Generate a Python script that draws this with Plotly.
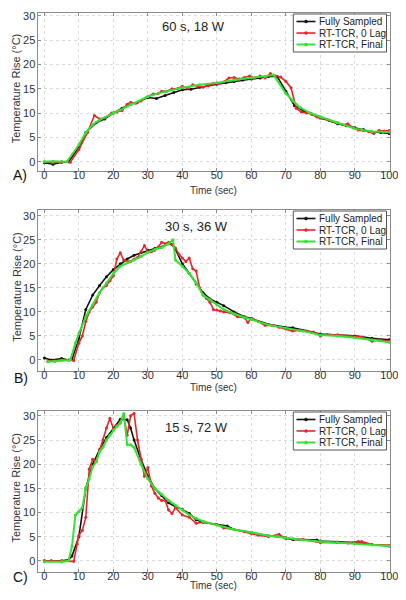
import plotly.graph_objects as go

# ---------------- data ----------------
# Panel A: 60 s, 18 W
tA_full = [0, 2.5, 5, 7, 10, 12, 15, 17.5, 20, 22.5, 25, 27, 30, 32.5, 35, 37.5, 40, 42.5, 45, 47.5,
           50, 52.5, 55, 57.5, 60, 62.5, 65, 67.5, 70, 72.5, 75, 77.5, 80, 82.5, 85, 87.5, 90, 92.5, 95, 97.5, 100]
yA_full = [-0.2, -0.5, -0.1, 0, 3, 6, 8, 8.8, 10, 11, 11.8, 12.2, 13.2, 13, 13.6, 14.2, 14.8, 14.9, 15.3, 15.6,
           15.9, 16.2, 16.5, 16.8, 17.0, 17.2, 17.5, 17.5, 14.5, 11.5, 10.5, 9.8, 9.0, 8.5, 7.8, 7.4, 7.0, 6.6, 6.1, 6.0, 5.8]
tA_lag = [0, 2.5, 5, 7.5, 10, 12.5, 14.5, 16, 17.5, 19.5, 21, 22.5, 24, 25, 26.5, 28, 30, 31.5, 33, 34, 35.5, 37,
          38.5, 40, 41.5, 43, 44.5, 46, 47.5, 49, 50.5, 52, 53.5, 55, 56.5, 58, 59.5, 61, 62.5, 64, 65.5, 67, 68.5,
          70, 71.5, 73, 74.5, 76, 77.5, 79, 80.5, 82, 83.5, 85, 86.5, 88, 89.5, 91, 92.5, 94, 95.5, 97, 98.5, 100]
yA_lag = [0, -0.2, 0, -0.1, 2.5, 6, 9.5, 8.8, 9, 10, 10.2, 10.5, 11.8, 12.2, 12, 12.5, 13.4, 13.9, 14.0, 14.5, 14.5, 15,
          15, 15.5, 15.1, 15.8, 15.5, 15.3, 15.6, 16.1, 16.0, 16.4, 17.2, 17.3, 17.0, 17.3, 17.6, 17.2, 17.6, 17.2, 18.1, 17.6, 17.4,
          16.5, 15.2, 11.0, 10.2, 10.0, 9.8, 9.2, 9.0, 8.7, 8.2, 8.0, 7.6, 7.8, 7.0, 6.5, 6.4, 6.2, 5.8, 6.4, 6.3, 6.4]
tA_fin = [0, 2.5, 6.5, 10, 12, 14, 16, 20, 25, 30, 35, 40, 45, 50, 55, 60, 64, 66.5, 70, 72, 74, 77, 80, 85, 90, 95, 100]
yA_fin = [0, 0.1, 0, 3.5, 6, 7.6, 8.6, 10, 11.8, 13.4, 14.4, 15.2, 15.8, 16.2, 16.8, 17.2, 17.5, 17.8, 14, 12.5, 11.2,
          10, 9.2, 8.0, 6.8, 6.2, 6.1]

# Panel B: 30 s, 36 W
tB_full = [0, 2, 5, 7, 8, 10, 12, 14, 16, 18, 20, 22, 24, 26, 28, 30, 32, 34, 36, 37, 38, 40, 42, 44, 46, 48, 50,
           52, 55, 58, 60, 65, 70, 72, 75, 80, 85, 90, 95, 100]
yB_full = [0.4, 0, 0.3, 0, 0.1, 4.5, 10.5, 13.5, 15.5, 17.3, 18.8, 20, 21, 21.8, 22.3, 22.8, 23.2, 23.5, 24.2, 24, 23,
           20, 18, 15.8, 14, 12.7, 12, 11.3, 10, 9, 8.6, 7.4, 6.8, 6.7, 6.2, 5.4, 5.2, 5.0, 4.5, 4.2]
tB_lag = [1, 3, 5, 8.5, 10, 11, 12, 13, 14, 15, 16, 17, 18, 19, 20, 21, 22, 23, 24, 25, 26, 27, 28, 29, 30, 31, 32,
          33, 34, 35, 36, 37, 38, 39, 40, 41, 42, 43, 44, 45, 46, 47, 48, 49, 50, 51, 52, 54, 56, 58, 59, 60, 62, 64,
          66, 68, 70, 72, 74, 76, 78, 80, 82, 85, 88, 90, 92, 95, 97, 100]
yB_lag = [-0.3, -0.2, 0, -0.1, 3.5, 5, 8, 10, 11, 12, 14, 15, 15.5, 16.5, 17.5, 21, 22.3, 20.8, 20.5, 20.5, 21, 21.3,
          22.5, 23.8, 22.5, 22.5, 22.8, 23.5, 24.5, 24.2, 24.5, 24, 23.3, 22, 21.2, 20.5, 21.2, 19, 18.5, 15, 13.5,
          12.8, 12, 10.5, 10.4, 10.2, 10, 9.8, 9.0, 8.8, 7.8, 8.7, 8.0, 7.2, 7.2, 6.8, 6.5, 6.0, 6.2, 6.0, 5.8, 5.0,
          5.3, 5.2, 5.0, 4.8, 4.8, 3.9, 4.2, 3.9]
tB_fin = [1, 3, 5, 7.5, 9, 10, 12, 14, 16, 18, 20, 22, 24, 26, 28, 30, 32, 34, 36, 37.3, 38, 40, 42, 44, 46, 48, 50,
          52, 55, 58, 60, 65, 70, 75, 80, 85, 90, 95, 100]
yB_fin = [-0.4, -0.3, -0.1, 0, 3.5, 5.5, 9, 11.5, 14, 16, 18, 19.5, 20.2, 20.8, 21.5, 22.4, 23, 23.4, 24.2, 25, 20.8,
          19.5, 18, 16, 13.5, 12.5, 11.5, 10.5, 9.6, 8.8, 8.4, 7.3, 6.7, 6.0, 5.2, 5.0, 4.6, 4.2, 3.7]

# Panel C: 15 s, 72 W
tC_full = [0, 2, 5, 7, 8, 10, 12, 14, 16, 18, 20, 22, 24, 25, 26, 28, 30, 32, 34, 36, 38, 40, 42, 44, 46, 50, 53,
           55, 60, 65, 70, 72, 75, 79, 80, 85, 90, 95, 100]
yC_full = [0, 0, 0, 0.2, 1, 5, 15, 20, 23, 25.5, 27.5, 29.3, 29.2, 27.5, 25, 21, 17.5, 15, 13.5, 12, 11.2, 10.6, 9.8,
           8.5, 8.0, 7.5, 7.2, 6.5, 5.8, 5.2, 4.8, 4.4, 4.4, 4.3, 4.1, 3.9, 3.8, 3.4, 3.1]
tC_lag = [0, 5, 8.5, 9.5, 10, 11, 12, 13, 14, 15, 16, 17, 18, 19, 20, 21, 22, 23, 24, 25, 26, 27, 28, 29, 30, 31,
          32, 33, 34, 35, 36, 37, 38, 40, 42, 44, 46, 50, 52, 55, 58, 60, 62, 65, 68, 70, 72, 75, 80, 85, 88, 91, 92,
          95, 100]
yC_lag = [0, -0.1, -0.1, 3.5, 5.3, 6.3, 9, 19, 21, 20.5, 23, 25, 27.5, 29.5, 27.3, 28, 28.5, 30, 26, 30, 30.5, 25, 21,
          17.5, 19.3, 15.5, 14, 13, 12.5, 12.5, 10.5, 9.8, 11, 9.5, 9.0, 7.8, 8.0, 7.5, 6.8, 6.5, 6.0, 5.6, 5.3, 5.0,
          5.5, 4.6, 4.5, 4.4, 3.8, 3.8, 3.7, 4.0, 4.0, 3.4, 3.2]
tC_fin = [0, 5, 7, 8, 9, 10, 11, 12, 13, 14, 15, 16, 17, 18, 19, 20, 21, 22, 23, 24, 25, 26, 28, 30, 32, 34, 36, 38,
          40, 42, 44, 46, 50, 55, 60, 65, 70, 75, 80, 85, 90, 95, 100]
yC_fin = [-0.2, -0.2, 0, 3, 9.5, 10.2, 11, 15, 17, 19.5, 20.5, 22.5, 23.5, 25, 26, 27, 27.8, 28.5, 30.5, 24, 24, 23.5,
          20, 17, 15, 13.8, 12.5, 11.5, 10.5, 9.5, 8.8, 8.2, 7.4, 6.5, 5.9, 5.2, 4.8, 4.3, 4.0, 3.8, 3.6, 3.3, 3.1]

panel_titles = ["60 s, 18 W", "30 s, 36 W", "15 s, 72 W"]
panel_letters = ["A)", "B)", "C)"]
series_names = ["Fully Sampled", "RT-TCR, 0 Lag", "RT-TCR, Final"]
x_title = "Time (sec)"
y_title = "Temperature Rise (°C)"
x_ticks = [0, 10, 20, 30, 40, 50, 60, 70, 80, 90, 100]
y_ticks = [0, 5, 10, 15, 20, 25, 30]

panels = [
    [(tA_full, yA_full), (tA_lag, yA_lag), (tA_fin, yA_fin)],
    [(tB_full, yB_full), (tB_lag, yB_lag), (tB_fin, yB_fin)],
    [(tC_full, yC_full), (tC_lag, yC_lag), (tC_fin, yC_fin)],
]

# ---------------- style / layout ----------------
# The html body has an 8 px margin on every side; size the figure so that it fits
# the 406x600 window exactly and shift all window coordinates by that margin.
OFF = 8
W, H = 406 - 2 * OFF, 600 - 2 * OFF
colors = ["#111111", "#e8262a", "#33e233"]
widths = [1.6, 1.6, 2.0]
FONT = "Liberation Sans, Arial, sans-serif"


def px(x):
    return (x - OFF) / W


def py(y):
    return 1 - (y - OFF) / H


# pixel boxes (window coordinates) of the three plot areas: left, right, top, bottom
boxes = [(37.5, 390, 13, 171), (37.5, 390, 210, 371), (37.5, 390, 411, 571.5)]
y_ranges = [[-1.9, 30.55], [-2.3, 31.2], [-2.2, 31.0]]
x_range = [-2, 100.2]
title_pos = [(193.5, 26.5), (196.7, 226), (196.3, 427)]
letter_pos = [(20.5, 175), (20.8, 377.5), (20, 577)]
xtitle_y = [190, 387, 585.5]

fig = go.Figure()
annotations = []
shapes = []
layout = dict(width=W, height=H, margin=dict(l=0, r=0, t=0, b=0),
              paper_bgcolor="white", plot_bgcolor="white",
              font=dict(family=FONT, size=11, color="#333333"),
              showlegend=False)

for i, series in enumerate(panels):
    k = "" if i == 0 else str(i + 1)
    for j, (t, y) in enumerate(series):
        fig.add_trace(go.Scatter(
            x=t, y=y, mode="lines+markers", name=series_names[j],
            line=dict(color=colors[j], width=widths[j]),
            marker=dict(color=colors[j], size=3),
            xaxis="x" + k, yaxis="y" + k,
        ))
    l, r, tp, bt = boxes[i]
    axis_common = dict(showline=True, linecolor="#8c8c8c", linewidth=1, mirror="ticks",
                       ticks="inside", ticklen=3, tickcolor="#8c8c8c", automargin=False,
                       ticklabeloverflow="allow",
                       showgrid=True, gridcolor="#dcdcdc", griddash="dot", gridwidth=1,
                       zeroline=False, tickfont=dict(size=11, color="#333333"))
    layout["xaxis" + k] = dict(domain=[px(l), px(r)], range=x_range, tickvals=x_ticks,
                               anchor="y" + k, ticklabelstandoff=-6, **axis_common)
    layout["yaxis" + k] = dict(domain=[py(bt), py(tp)], range=y_ranges[i], tickvals=y_ticks,
                               anchor="x" + k, ticklabelstandoff=-1, **axis_common)
    # axis titles, placed where the reference has them
    annotations.append(dict(text=x_title, x=px((l + r) / 2), y=py(xtitle_y[i]),
                            xref="paper", yref="paper", xanchor="center", yanchor="middle",
                            showarrow=False, font=dict(size=10, color="#333333")))
    annotations.append(dict(text=y_title, x=px(16.3), y=py((tp + bt) / 2 - 4),
                            xref="paper", yref="paper", xanchor="center", yanchor="middle",
                            textangle=-90, showarrow=False, font=dict(size=11, color="#333333")))
    annotations.append(dict(text=panel_titles[i], x=px(title_pos[i][0]), y=py(title_pos[i][1]),
                            xref="paper", yref="paper", xanchor="center", yanchor="middle",
                            showarrow=False, font=dict(size=13, color="#222222")))
    annotations.append(dict(text=panel_letters[i], x=px(letter_pos[i][0]), y=py(letter_pos[i][1]),
                            xref="paper", yref="paper", xanchor="center", yanchor="middle",
                            showarrow=False, font=dict(size=14, color="#111111")))
    # legend box (drawn manually to match the compact MATLAB legend)
    lx0, lx1 = 293.3, 386.5
    shapes.append(dict(type="rect", xref="paper", yref="paper",
                       x0=px(lx0), x1=px(lx1), y0=py(tp + 39), y1=py(tp + 1),
                       line=dict(color="#555555", width=1), fillcolor="white", layer="above"))
    for j in range(3):
        ry = tp + 8.5 + j * 11.5
        shapes.append(dict(type="line", xref="paper", yref="paper",
                           x0=px(296.5), x1=px(315.5), y0=py(ry), y1=py(ry),
                           line=dict(color=colors[j], width=widths[j]), layer="above"))
        shapes.append(dict(type="circle", xref="paper", yref="paper",
                           x0=px(304.5), x1=px(307.5), y0=py(ry + 1.5), y1=py(ry - 1.5),
                           line=dict(color=colors[j], width=0.5), fillcolor=colors[j], layer="above"))
        annotations.append(dict(text=series_names[j], x=px(317), y=py(ry), xref="paper", yref="paper",
                                xanchor="left", yanchor="middle", showarrow=False,
                                font=dict(size=10, color="#222222")))

layout["annotations"] = annotations
layout["shapes"] = shapes
fig.update_layout(**layout)
fig.write_html("out.html")
